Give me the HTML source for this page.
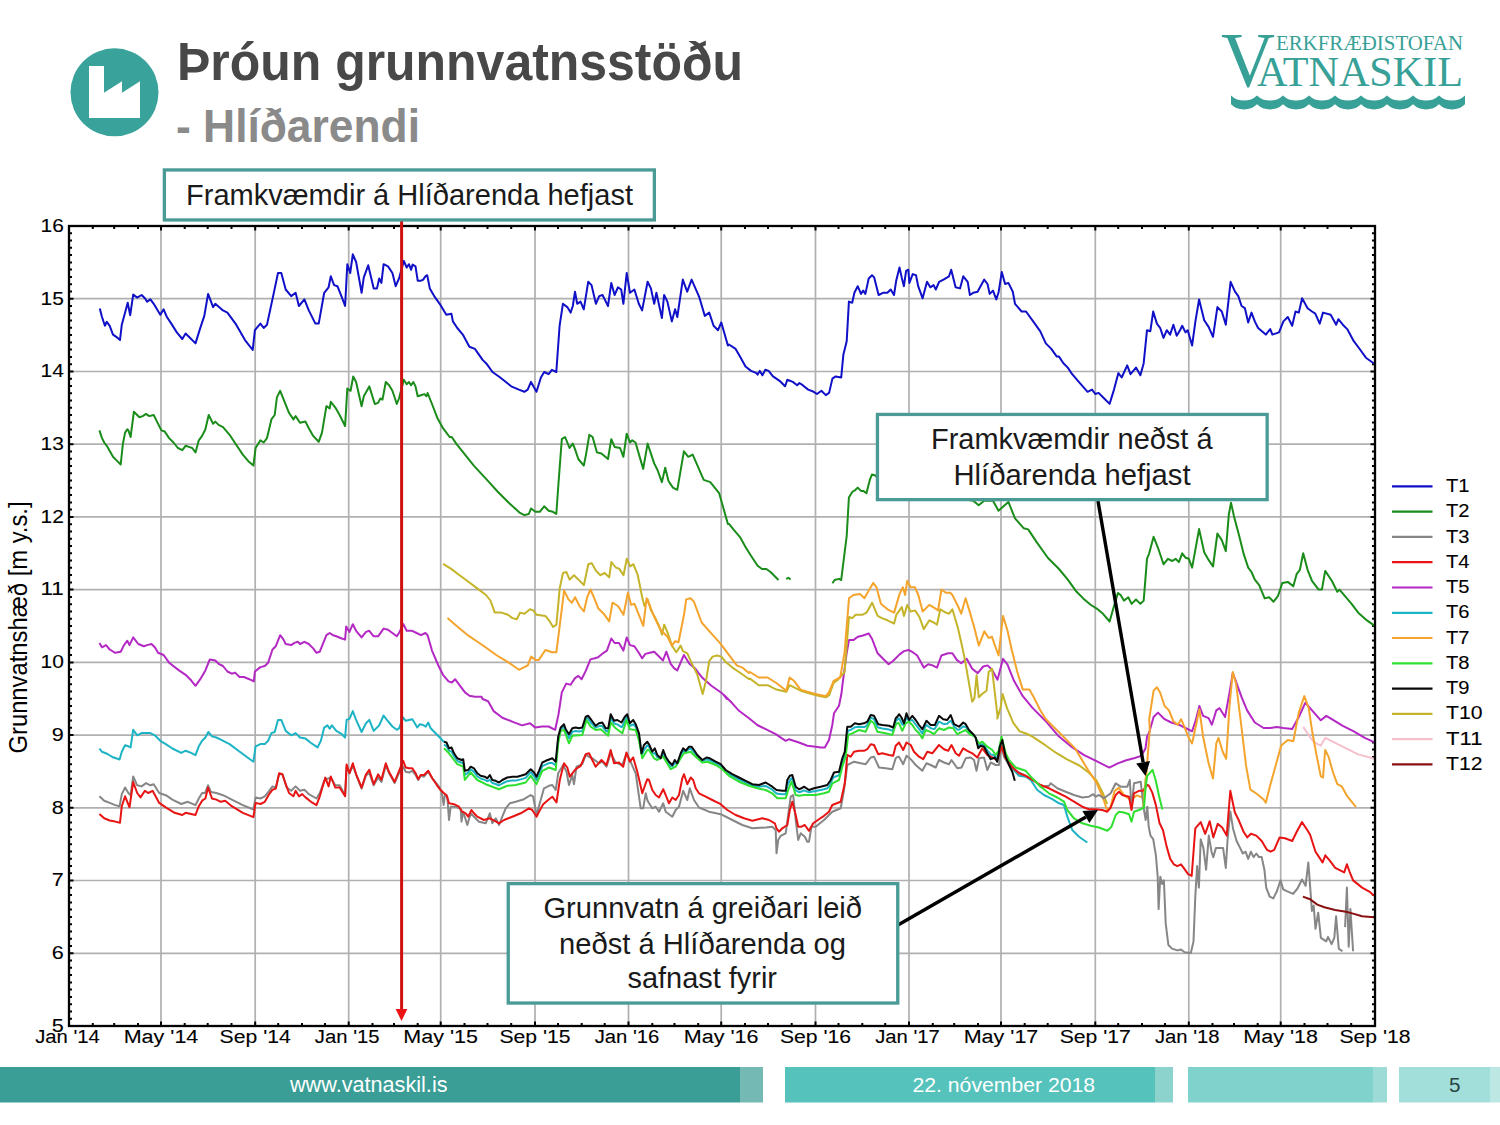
<!DOCTYPE html>
<html><head><meta charset="utf-8"><style>
html,body{margin:0;padding:0;background:#fff;}
body{width:1500px;height:1125px;position:relative;overflow:hidden;font-family:"Liberation Sans",sans-serif;}
svg{position:absolute;left:0;top:0;}
</style></head><body>
<svg width="1500" height="1125" viewBox="0 0 1500 1125">
<circle cx="114.5" cy="92.3" r="44" fill="#39a39b"/>
<polygon points="89,66 104,66 104,92.7 122,81.3 122,92.7 140,81.3 140,118 89,118" fill="#fff"/>
<text x="177.0" y="79.5" font-family="Liberation Sans" font-size="53.8" fill="#484848" textLength="566.0" lengthAdjust="spacingAndGlyphs" font-weight="bold">Þróun grunnvatnsstöðu</text>
<text x="176.0" y="141.8" font-family="Liberation Sans" font-size="46.5" fill="#8a8a8a" textLength="244.0" lengthAdjust="spacingAndGlyphs" font-weight="bold">- Hlíðarendi</text>
<text x="1221" y="86" font-family="Liberation Serif" font-size="78" fill="#37a097" textLength="54" lengthAdjust="spacingAndGlyphs">V</text>
<text x="1276" y="49.6" font-family="Liberation Serif" font-size="21.4" fill="#37a097" textLength="187" lengthAdjust="spacingAndGlyphs">ERKFRÆÐISTOFAN</text>
<text x="1257" y="85.6" font-family="Liberation Serif" font-size="41.7" fill="#37a097" textLength="206" lengthAdjust="spacingAndGlyphs">ATNASKIL</text>
<path d="M1231.0 95.4 A18.85 18.85 0 0 0 1257.0 95.4 L1257.0 104.2 A18.85 18.85 0 0 1 1231.0 104.2 Z M1257.0 95.4 A18.85 18.85 0 0 0 1283.0 95.4 L1283.0 104.2 A18.85 18.85 0 0 1 1257.0 104.2 Z M1283.0 95.4 A18.85 18.85 0 0 0 1309.0 95.4 L1309.0 104.2 A18.85 18.85 0 0 1 1283.0 104.2 Z M1309.0 95.4 A18.85 18.85 0 0 0 1335.0 95.4 L1335.0 104.2 A18.85 18.85 0 0 1 1309.0 104.2 Z M1335.0 95.4 A18.85 18.85 0 0 0 1361.0 95.4 L1361.0 104.2 A18.85 18.85 0 0 1 1335.0 104.2 Z M1361.0 95.4 A18.85 18.85 0 0 0 1387.0 95.4 L1387.0 104.2 A18.85 18.85 0 0 1 1361.0 104.2 Z M1387.0 95.4 A18.85 18.85 0 0 0 1413.0 95.4 L1413.0 104.2 A18.85 18.85 0 0 1 1387.0 104.2 Z M1413.0 95.4 A18.85 18.85 0 0 0 1439.0 95.4 L1439.0 104.2 A18.85 18.85 0 0 1 1413.0 104.2 Z M1439.0 95.4 A18.85 18.85 0 0 0 1465.0 95.4 L1465.0 104.2 A18.85 18.85 0 0 1 1439.0 104.2 Z " fill="#37a097"/>
<line x1="161.0" y1="226.0" x2="161.0" y2="1026.0" stroke="#b0b0b0" stroke-width="1.7"/>
<line x1="255.2" y1="226.0" x2="255.2" y2="1026.0" stroke="#b0b0b0" stroke-width="1.7"/>
<line x1="348.7" y1="226.0" x2="348.7" y2="1026.0" stroke="#b0b0b0" stroke-width="1.7"/>
<line x1="440.7" y1="226.0" x2="440.7" y2="1026.0" stroke="#b0b0b0" stroke-width="1.7"/>
<line x1="535.0" y1="226.0" x2="535.0" y2="1026.0" stroke="#b0b0b0" stroke-width="1.7"/>
<line x1="628.5" y1="226.0" x2="628.5" y2="1026.0" stroke="#b0b0b0" stroke-width="1.7"/>
<line x1="721.2" y1="226.0" x2="721.2" y2="1026.0" stroke="#b0b0b0" stroke-width="1.7"/>
<line x1="815.5" y1="226.0" x2="815.5" y2="1026.0" stroke="#b0b0b0" stroke-width="1.7"/>
<line x1="909.0" y1="226.0" x2="909.0" y2="1026.0" stroke="#b0b0b0" stroke-width="1.7"/>
<line x1="1001.0" y1="226.0" x2="1001.0" y2="1026.0" stroke="#b0b0b0" stroke-width="1.7"/>
<line x1="1095.3" y1="226.0" x2="1095.3" y2="1026.0" stroke="#b0b0b0" stroke-width="1.7"/>
<line x1="1188.8" y1="226.0" x2="1188.8" y2="1026.0" stroke="#b0b0b0" stroke-width="1.7"/>
<line x1="1280.7" y1="226.0" x2="1280.7" y2="1026.0" stroke="#b0b0b0" stroke-width="1.7"/>
<line x1="69.0" y1="953.3" x2="1375.0" y2="953.3" stroke="#b0b0b0" stroke-width="1.7"/>
<line x1="69.0" y1="880.5" x2="1375.0" y2="880.5" stroke="#b0b0b0" stroke-width="1.7"/>
<line x1="69.0" y1="807.8" x2="1375.0" y2="807.8" stroke="#b0b0b0" stroke-width="1.7"/>
<line x1="69.0" y1="735.1" x2="1375.0" y2="735.1" stroke="#b0b0b0" stroke-width="1.7"/>
<line x1="69.0" y1="662.4" x2="1375.0" y2="662.4" stroke="#b0b0b0" stroke-width="1.7"/>
<line x1="69.0" y1="589.6" x2="1375.0" y2="589.6" stroke="#b0b0b0" stroke-width="1.7"/>
<line x1="69.0" y1="516.9" x2="1375.0" y2="516.9" stroke="#b0b0b0" stroke-width="1.7"/>
<line x1="69.0" y1="444.2" x2="1375.0" y2="444.2" stroke="#b0b0b0" stroke-width="1.7"/>
<line x1="69.0" y1="371.5" x2="1375.0" y2="371.5" stroke="#b0b0b0" stroke-width="1.7"/>
<line x1="69.0" y1="298.7" x2="1375.0" y2="298.7" stroke="#b0b0b0" stroke-width="1.7"/>
<path d="M69.0 226.0v4.5M69.0 1026.0v-4.5M92.8 226.0v3M92.8 1026.0v-3M114.2 226.0v3M114.2 1026.0v-3M138.0 226.0v3M138.0 1026.0v-3M161.0 226.0v4.5M161.0 1026.0v-4.5M184.7 226.0v3M184.7 1026.0v-3M207.7 226.0v3M207.7 1026.0v-3M231.5 226.0v3M231.5 1026.0v-3M255.2 226.0v4.5M255.2 1026.0v-4.5M278.2 226.0v3M278.2 1026.0v-3M302.0 226.0v3M302.0 1026.0v-3M325.0 226.0v3M325.0 1026.0v-3M348.7 226.0v4.5M348.7 1026.0v-4.5M372.5 226.0v3M372.5 1026.0v-3M394.0 226.0v3M394.0 1026.0v-3M417.7 226.0v3M417.7 1026.0v-3M440.7 226.0v4.5M440.7 1026.0v-4.5M464.5 226.0v3M464.5 1026.0v-3M487.5 226.0v3M487.5 1026.0v-3M511.2 226.0v3M511.2 1026.0v-3M535.0 226.0v4.5M535.0 1026.0v-4.5M558.0 226.0v3M558.0 1026.0v-3M581.7 226.0v3M581.7 1026.0v-3M604.7 226.0v3M604.7 1026.0v-3M628.5 226.0v4.5M628.5 1026.0v-4.5M652.3 226.0v3M652.3 1026.0v-3M674.5 226.0v3M674.5 1026.0v-3M698.2 226.0v3M698.2 1026.0v-3M721.2 226.0v4.5M721.2 1026.0v-4.5M745.0 226.0v3M745.0 1026.0v-3M768.0 226.0v3M768.0 1026.0v-3M791.7 226.0v3M791.7 1026.0v-3M815.5 226.0v4.5M815.5 1026.0v-4.5M838.5 226.0v3M838.5 1026.0v-3M862.3 226.0v3M862.3 1026.0v-3M885.2 226.0v3M885.2 1026.0v-3M909.0 226.0v4.5M909.0 1026.0v-4.5M932.8 226.0v3M932.8 1026.0v-3M954.2 226.0v3M954.2 1026.0v-3M978.0 226.0v3M978.0 1026.0v-3M1001.0 226.0v4.5M1001.0 1026.0v-4.5M1024.7 226.0v3M1024.7 1026.0v-3M1047.7 226.0v3M1047.7 1026.0v-3M1071.5 226.0v3M1071.5 1026.0v-3M1095.3 226.0v4.5M1095.3 1026.0v-4.5M1118.2 226.0v3M1118.2 1026.0v-3M1142.0 226.0v3M1142.0 1026.0v-3M1165.0 226.0v3M1165.0 1026.0v-3M1188.8 226.0v4.5M1188.8 1026.0v-4.5M1212.5 226.0v3M1212.5 1026.0v-3M1234.0 226.0v3M1234.0 1026.0v-3M1257.7 226.0v3M1257.7 1026.0v-3M1280.7 226.0v4.5M1280.7 1026.0v-4.5M1304.5 226.0v3M1304.5 1026.0v-3M1327.5 226.0v3M1327.5 1026.0v-3M1351.2 226.0v3M1351.2 1026.0v-3M1375.0 226.0v4.5M1375.0 1026.0v-4.5M69.0 226.0h4.5M1375.0 226.0h-4.5M69.0 233.3h3M1375.0 233.3h-3M69.0 240.5h3M1375.0 240.5h-3M69.0 247.8h3M1375.0 247.8h-3M69.0 255.1h3M1375.0 255.1h-3M69.0 262.4h3M1375.0 262.4h-3M69.0 269.6h3M1375.0 269.6h-3M69.0 276.9h3M1375.0 276.9h-3M69.0 284.2h3M1375.0 284.2h-3M69.0 291.5h3M1375.0 291.5h-3M69.0 298.7h4.5M1375.0 298.7h-4.5M69.0 306.0h3M1375.0 306.0h-3M69.0 313.3h3M1375.0 313.3h-3M69.0 320.5h3M1375.0 320.5h-3M69.0 327.8h3M1375.0 327.8h-3M69.0 335.1h3M1375.0 335.1h-3M69.0 342.4h3M1375.0 342.4h-3M69.0 349.6h3M1375.0 349.6h-3M69.0 356.9h3M1375.0 356.9h-3M69.0 364.2h3M1375.0 364.2h-3M69.0 371.5h4.5M1375.0 371.5h-4.5M69.0 378.7h3M1375.0 378.7h-3M69.0 386.0h3M1375.0 386.0h-3M69.0 393.3h3M1375.0 393.3h-3M69.0 400.5h3M1375.0 400.5h-3M69.0 407.8h3M1375.0 407.8h-3M69.0 415.1h3M1375.0 415.1h-3M69.0 422.4h3M1375.0 422.4h-3M69.0 429.6h3M1375.0 429.6h-3M69.0 436.9h3M1375.0 436.9h-3M69.0 444.2h4.5M1375.0 444.2h-4.5M69.0 451.5h3M1375.0 451.5h-3M69.0 458.7h3M1375.0 458.7h-3M69.0 466.0h3M1375.0 466.0h-3M69.0 473.3h3M1375.0 473.3h-3M69.0 480.5h3M1375.0 480.5h-3M69.0 487.8h3M1375.0 487.8h-3M69.0 495.1h3M1375.0 495.1h-3M69.0 502.4h3M1375.0 502.4h-3M69.0 509.6h3M1375.0 509.6h-3M69.0 516.9h4.5M1375.0 516.9h-4.5M69.0 524.2h3M1375.0 524.2h-3M69.0 531.5h3M1375.0 531.5h-3M69.0 538.7h3M1375.0 538.7h-3M69.0 546.0h3M1375.0 546.0h-3M69.0 553.3h3M1375.0 553.3h-3M69.0 560.5h3M1375.0 560.5h-3M69.0 567.8h3M1375.0 567.8h-3M69.0 575.1h3M1375.0 575.1h-3M69.0 582.4h3M1375.0 582.4h-3M69.0 589.6h4.5M1375.0 589.6h-4.5M69.0 596.9h3M1375.0 596.9h-3M69.0 604.2h3M1375.0 604.2h-3M69.0 611.5h3M1375.0 611.5h-3M69.0 618.7h3M1375.0 618.7h-3M69.0 626.0h3M1375.0 626.0h-3M69.0 633.3h3M1375.0 633.3h-3M69.0 640.5h3M1375.0 640.5h-3M69.0 647.8h3M1375.0 647.8h-3M69.0 655.1h3M1375.0 655.1h-3M69.0 662.4h4.5M1375.0 662.4h-4.5M69.0 669.6h3M1375.0 669.6h-3M69.0 676.9h3M1375.0 676.9h-3M69.0 684.2h3M1375.0 684.2h-3M69.0 691.5h3M1375.0 691.5h-3M69.0 698.7h3M1375.0 698.7h-3M69.0 706.0h3M1375.0 706.0h-3M69.0 713.3h3M1375.0 713.3h-3M69.0 720.5h3M1375.0 720.5h-3M69.0 727.8h3M1375.0 727.8h-3M69.0 735.1h4.5M1375.0 735.1h-4.5M69.0 742.4h3M1375.0 742.4h-3M69.0 749.6h3M1375.0 749.6h-3M69.0 756.9h3M1375.0 756.9h-3M69.0 764.2h3M1375.0 764.2h-3M69.0 771.5h3M1375.0 771.5h-3M69.0 778.7h3M1375.0 778.7h-3M69.0 786.0h3M1375.0 786.0h-3M69.0 793.3h3M1375.0 793.3h-3M69.0 800.5h3M1375.0 800.5h-3M69.0 807.8h4.5M1375.0 807.8h-4.5M69.0 815.1h3M1375.0 815.1h-3M69.0 822.4h3M1375.0 822.4h-3M69.0 829.6h3M1375.0 829.6h-3M69.0 836.9h3M1375.0 836.9h-3M69.0 844.2h3M1375.0 844.2h-3M69.0 851.5h3M1375.0 851.5h-3M69.0 858.7h3M1375.0 858.7h-3M69.0 866.0h3M1375.0 866.0h-3M69.0 873.3h3M1375.0 873.3h-3M69.0 880.5h4.5M1375.0 880.5h-4.5M69.0 887.8h3M1375.0 887.8h-3M69.0 895.1h3M1375.0 895.1h-3M69.0 902.4h3M1375.0 902.4h-3M69.0 909.6h3M1375.0 909.6h-3M69.0 916.9h3M1375.0 916.9h-3M69.0 924.2h3M1375.0 924.2h-3M69.0 931.5h3M1375.0 931.5h-3M69.0 938.7h3M1375.0 938.7h-3M69.0 946.0h3M1375.0 946.0h-3M69.0 953.3h4.5M1375.0 953.3h-4.5M69.0 960.5h3M1375.0 960.5h-3M69.0 967.8h3M1375.0 967.8h-3M69.0 975.1h3M1375.0 975.1h-3M69.0 982.4h3M1375.0 982.4h-3M69.0 989.6h3M1375.0 989.6h-3M69.0 996.9h3M1375.0 996.9h-3M69.0 1004.2h3M1375.0 1004.2h-3M69.0 1011.5h3M1375.0 1011.5h-3M69.0 1018.7h3M1375.0 1018.7h-3M69.0 1026.0h4.5M1375.0 1026.0h-4.5" stroke="#000" stroke-width="2" fill="none"/>
<polyline points="1303.2,726.9 1309.8,736.8 1314.2,742.3 1320.8,745.6 1325.2,737.9 1336.2,743.4 1347.2,748.9 1358.2,754.4 1374.7,758.8" fill="none" stroke="#f4c0cc" stroke-width="2.0" stroke-linejoin="round"/>
<polyline points="99.4,430.4 102.0,438.1 104.2,442.5 107.5,446.9 113.0,456.8 116.3,460.1 120.7,464.5 122.9,443.6 125.1,432.6 127.3,429.3 128.4,430.4 130.6,437.0 133.9,411.7 139.4,417.2 142.7,416.1 146.0,413.9 149.3,416.1 153.7,415.0 157.0,421.6 161.4,430.4 164.7,431.5 169.1,438.1 173.5,442.5 177.9,448.0 182.3,450.2 185.6,445.8 188.9,446.9 192.2,448.0 195.5,452.4 198.8,440.3 202.1,435.9 205.4,429.3 208.7,415.0 213.1,423.8 215.3,421.6 218.6,424.9 223.0,427.1 229.6,434.8 236.2,444.7 242.8,454.6 248.3,461.2 253.4,465.6 255.6,448.0 260.4,440.3 263.7,442.5 267.0,438.1 271.4,419.4 274.7,415.0 276.9,397.4 280.2,390.8 284.6,401.8 289.0,412.8 293.4,419.4 295.6,416.1 300.0,422.7 305.5,421.6 308.8,428.2 313.2,435.9 318.7,441.8 322.0,432.6 326.4,406.2 329.7,408.4 330.8,401.8 335.2,407.3 339.6,415.0 345.1,426.0 347.3,388.6 350.6,390.8 353.2,376.5 356.1,382.0 361.6,406.2 363.8,396.3 369.3,386.4 374.8,404.0 378.1,402.9 380.3,398.5 382.5,399.6 385.8,382.0 389.1,385.3 392.4,390.8 396.8,404.0 399.0,398.5 403.8,379.8 406.7,384.2 408.9,382.0 411.1,385.3 413.3,382.0 415.5,386.4 417.7,396.3 421.0,395.2 424.3,394.1 426.5,396.3 427.6,393.0 432.0,404.0 437.5,418.3 443.0,428.2 449.6,437.0 451.8,437.0 456.2,443.6 465.0,454.6 473.8,465.6 487.0,479.9 498.0,492.0 509.0,503.0 520.0,512.9 524.4,515.1 528.8,514.0 531.0,508.5 535.4,511.8 539.8,511.8 544.2,506.3 548.6,510.7 553.0,511.8 556.3,514.0 558.5,483.2 561.8,439.2 565.1,437.0 569.5,448.0 572.8,443.6 575.0,449.1 578.3,459.0 583.8,465.6 586.0,454.6 589.3,434.8 592.6,437.0 597.0,452.4 601.4,453.5 608.0,459.0 611.3,439.2 614.6,446.9 620.1,448.0 623.4,456.8 626.7,433.7 630.0,442.5 632.2,440.3 635.5,442.5 643.2,468.9 647.6,443.6 654.2,463.4 657.5,470.0 661.9,482.1 665.2,467.8 668.5,481.0 672.9,487.6 677.3,489.8 683.9,451.3 688.3,456.8 692.7,454.6 703.7,479.9 710.3,482.1 719.1,493.1 727.9,523.9 729.0,523.9 733.4,529.4 740.0,537.1 745.5,547.0 751.0,555.8 757.6,565.7 762.0,569.0 766.4,569.0 770.8,572.3 778.5,580.0" fill="none" stroke="#1a8c1a" stroke-width="2.0" stroke-linejoin="round"/>
<polyline points="786.2,578.9 788.4,577.8 790.6,579.6" fill="none" stroke="#1a8c1a" stroke-width="2.0" stroke-linejoin="round"/>
<polyline points="832.4,583.3 834.6,580.0 839.0,578.9 841.2,580.0 843.4,562.4 846.7,536.0 848.9,497.5 852.2,492.0 855.5,489.8 857.7,487.6 861.0,490.9 863.2,490.9 866.5,493.1 869.8,479.9 872.0,474.4 875.3,475.5 883.0,483.2 905.0,483.2 927.0,492.0 949.0,496.4 973.2,500.8 978.7,505.2 984.2,500.8 993.0,500.8 998.5,510.7 1008.4,501.9 1015.0,518.4 1023.8,528.3 1028.2,529.4 1037.0,542.6 1048.0,558.0 1059.0,569.0 1067.8,579.7 1076.6,591.8 1083.2,598.4 1090.9,605.0 1096.4,608.3 1103.0,613.8 1109.6,621.5 1114.0,606.1 1118.0,592.9 1120.6,595.1 1123.9,600.6 1128.3,597.3 1131.6,603.9 1136.0,599.5 1140.4,603.9 1143.7,600.6 1147.0,558.8 1149.2,553.3 1153.6,536.8 1158.0,547.8 1163.5,564.3 1167.9,558.8 1172.3,561.0 1175.6,558.8 1178.9,562.1 1182.2,553.3 1185.5,557.7 1188.8,558.8 1192.1,567.6 1199.1,529.1 1204.2,552.2 1208.6,559.9 1213.0,566.5 1217.4,533.5 1221.8,540.1 1225.8,551.1 1228.8,514.8 1231.0,502.7 1233.9,515.9 1239.4,536.8 1243.8,554.4 1248.2,567.6 1251.5,572.0 1254.8,579.7 1259.2,585.2 1264.7,598.4 1269.1,597.3 1273.5,601.7 1277.9,596.2 1282.3,583.0 1287.8,581.9 1293.3,586.3 1296.6,574.2 1299.9,569.8 1303.2,553.3 1307.6,569.8 1312.0,580.8 1318.6,589.6 1321.9,589.6 1325.2,570.9 1331.8,580.8 1337.3,591.8 1339.5,589.6 1345.0,596.2 1351.6,603.9 1358.2,612.7 1367.0,620.4 1374.7,625.9" fill="none" stroke="#1a8c1a" stroke-width="2.0" stroke-linejoin="round"/>
<polyline points="99.8,308.6 102.0,317.0 104.9,325.8 106.8,321.8 109.7,325.8 113.0,334.6 116.3,336.8 120.0,340.0 121.8,324.7 125.1,312.6 127.7,302.7 130.2,315.2 133.2,294.6 137.2,297.6 141.6,295.0 144.9,298.3 147.1,301.6 150.4,299.4 153.7,303.8 160.3,314.8 163.6,309.3 166.9,317.0 171.3,323.6 176.8,332.4 182.3,339.0 185.6,333.5 188.9,336.8 195.5,343.4 199.9,329.1 204.3,315.9 208.1,293.9 213.1,307.1 215.3,303.8 223.0,310.4 227.4,312.6 236.2,324.7 245.0,340.1 252.7,350.0 254.9,330.2 260.4,323.6 263.7,328.0 267.0,324.7 273.6,293.9 278.0,273.0 281.3,273.0 285.7,289.5 291.2,296.1 295.6,292.8 298.9,306.0 304.4,299.4 308.8,310.4 315.4,323.6 318.7,323.6 324.2,292.8 328.6,287.3 330.8,276.3 334.1,285.1 337.4,286.2 341.8,297.2 345.1,306.0 347.3,264.2 350.2,273.0 352.8,254.3 356.1,262.0 361.6,292.8 363.8,277.4 368.2,265.3 373.7,288.4 377.0,288.4 379.2,278.5 381.4,282.9 383.6,264.2 388.0,266.4 392.4,273.0 395.7,286.2 399.0,278.5 403.8,260.9 406.7,267.5 408.9,264.2 411.1,269.7 412.6,264.6 415.5,266.4 417.7,280.7 421.0,280.7 423.2,279.6 425.4,276.3 427.2,275.2 429.8,288.4 434.2,296.1 439.7,303.8 446.3,314.8 451.4,313.7 452.9,321.4 457.3,328.0 462.8,334.6 469.4,346.7 474.9,348.9 482.6,359.9 487.0,364.3 492.5,372.0 500.2,377.5 511.2,386.3 518.9,389.6 524.4,391.8 527.7,389.6 531.0,381.9 536.5,391.8 540.9,377.5 544.2,372.0 548.6,374.2 551.9,369.8 556.3,372.0 559.6,325.8 562.9,303.8 567.3,307.1 570.6,312.6 572.8,306.0 575.0,291.7 577.2,303.8 580.5,301.6 583.8,309.3 588.2,281.8 591.5,285.1 595.9,303.8 599.2,296.1 602.5,295.0 604.7,299.4 608.0,306.0 611.3,282.9 614.6,295.0 617.9,287.3 621.2,289.5 623.4,303.8 626.7,273.0 630.0,292.8 634.4,289.5 638.8,303.8 642.1,310.4 647.6,281.8 650.9,288.4 654.2,303.8 656.4,292.8 661.9,318.1 664.1,295.0 667.4,301.6 671.8,321.4 675.1,309.3 677.3,317.0 682.8,279.6 687.2,291.7 691.6,279.6 699.3,297.2 704.8,315.9 709.2,312.6 713.6,325.8 718.0,330.2 721.3,322.5 727.9,345.6 729.0,344.5 735.6,348.9 740.0,356.6 745.5,366.5 751.0,370.9 756.5,373.1 757.6,374.6 759.8,370.9 762.4,375.3 765.3,369.8 768.6,370.9 773.0,376.4 779.6,380.8 785.1,386.3 787.3,379.7 792.8,381.9 797.2,385.2 799.4,383.0 802.7,385.2 808.2,389.6 813.7,391.8 817.0,394.0 821.4,390.7 825.8,395.1 829.1,392.9 832.4,378.6 835.7,376.4 841.2,377.5 843.4,354.4 846.7,341.2 848.9,301.6 852.2,302.7 854.4,292.8 857.7,286.2 861.0,293.9 863.2,290.6 865.4,293.9 868.7,278.5 872.0,275.2 874.2,277.4 878.6,295.0 883.0,292.8 887.4,292.8 890.7,289.5 894.0,295.0 896.2,280.7 899.5,267.5 901.7,277.4 903.9,286.2 906.1,270.8 908.3,269.7 909.4,282.9 912.7,274.1 916.0,275.2 918.2,286.2 922.6,298.3 927.0,281.8 930.3,287.3 933.6,285.1 935.8,289.5 939.1,281.8 943.5,279.6 949.0,276.3 951.2,269.7 955.6,287.3 960.0,288.4 963.3,276.3 967.7,281.8 969.9,295.0 973.2,292.8 977.6,291.7 984.2,279.6 987.5,284.0 989.7,293.9 993.0,290.6 996.3,299.4 998.5,292.8 1001.8,271.9 1005.1,284.0 1008.4,282.9 1012.8,291.7 1015.0,303.8 1021.6,311.5 1026.0,311.5 1034.8,323.6 1040.3,331.3 1045.8,343.4 1051.3,348.9 1056.8,356.6 1059.0,356.6 1063.4,363.2 1067.8,367.6 1072.2,374.2 1078.8,381.9 1087.6,391.8 1092.0,389.6 1095.3,394.0 1098.6,392.9 1105.2,399.5 1109.6,403.9 1114.0,389.6 1118.4,373.1 1121.7,377.5 1127.2,365.4 1130.5,374.2 1136.0,367.6 1140.4,375.3 1143.7,363.2 1147.0,330.2 1150.3,331.3 1153.2,311.5 1156.9,323.6 1160.2,328.0 1163.5,337.9 1166.8,330.2 1170.1,334.6 1173.4,324.7 1176.7,335.7 1180.0,330.2 1182.2,325.8 1185.5,332.4 1187.7,330.2 1192.1,345.6 1195.4,321.4 1199.1,299.4 1204.2,320.3 1208.6,326.9 1213.0,336.8 1217.4,307.1 1221.8,311.5 1225.8,324.7 1230.6,281.8 1235.0,291.7 1238.3,296.1 1241.6,306.0 1244.9,308.2 1248.2,322.5 1251.5,312.6 1254.8,321.4 1258.1,328.0 1265.8,334.6 1270.2,329.1 1272.4,334.6 1279.0,332.4 1283.4,321.4 1287.8,317.0 1292.2,325.8 1295.5,311.5 1298.8,312.6 1302.1,298.3 1307.6,308.2 1312.0,311.5 1315.3,313.7 1319.7,323.6 1323.0,312.6 1330.7,314.8 1336.2,324.7 1338.4,319.2 1342.8,324.7 1347.2,329.1 1353.8,341.2 1360.4,350.0 1365.9,357.7 1373.6,363.2" fill="none" stroke="#1010c8" stroke-width="2.0" stroke-linejoin="round"/>
<polyline points="99.4,642.9 102.0,647.3 106.0,645.1 109.7,649.5 115.2,652.8 120.7,651.7 124.0,645.1 127.3,640.7 129.5,645.1 133.2,637.4 138.3,644.0 143.8,646.2 147.1,645.1 151.5,644.0 154.8,647.3 158.1,652.8 163.6,655.0 169.1,662.7 179.0,670.4 185.6,674.8 191.1,680.3 195.5,685.8 201.0,678.1 205.4,670.4 209.8,659.4 215.3,660.5 218.6,663.8 223.0,666.0 227.4,671.5 231.8,673.7 235.1,672.6 239.5,677.0 243.9,677.0 249.4,679.2 253.8,681.4 254.9,671.5 260.4,667.1 264.8,666.0 268.1,662.7 272.5,649.5 275.8,646.2 280.2,635.2 283.5,639.6 285.7,644.0 291.2,645.1 294.5,642.9 297.8,641.8 300.0,644.0 304.4,641.8 308.8,644.0 313.2,648.4 316.5,652.8 319.8,651.7 326.4,635.2 329.7,633.0 333.0,635.2 336.3,636.3 341.8,638.5 345.1,639.6 346.2,626.4 349.5,631.9 352.8,624.2 356.1,630.8 361.6,637.4 366.0,631.9 369.3,630.8 373.7,636.3 378.1,636.3 383.6,628.6 388.0,629.7 392.4,633.0 396.8,636.3 399.0,633.0 403.4,624.2 406.7,630.8 412.2,630.8 416.6,633.0 421.0,635.2 425.4,633.0 427.6,635.2 432.0,650.6 438.6,666.0 443.0,674.8 448.5,681.4 451.8,682.5 455.1,679.2 458.4,683.6 465.0,692.4 469.4,695.7 474.9,696.8 481.5,696.8 482.6,699.0 488.1,701.2 493.6,711.1 502.4,717.7 513.4,722.1 522.2,725.4 529.9,723.2 535.4,727.6 542.0,726.5 548.6,726.5 555.2,729.8 558.5,714.4 561.8,692.4 566.2,683.6 570.6,684.7 575.0,678.1 578.3,675.9 581.6,679.2 586.0,670.4 590.4,659.4 594.8,658.3 598.1,657.2 603.6,652.8 606.9,650.6 611.3,638.5 614.6,642.9 619.0,642.9 623.4,650.6 626.7,637.4 630.0,645.1 634.4,646.2 638.8,652.8 642.1,658.3 645.4,653.9 649.8,652.8 654.2,651.7 657.5,655.0 663.0,660.5 666.3,651.7 670.7,663.8 674.0,668.2 677.3,670.4 680.6,662.7 683.9,655.0 689.4,663.8 694.9,668.2 698.2,672.6 702.6,678.1 711.4,685.8 722.4,693.5 726.8,699.0 724.0,695.0 732.3,703.3 739.0,710.8 749.0,718.3 757.3,725.0 765.7,729.2 775.7,734.2 785.7,740.8 789.0,739.2 799.0,742.5 807.3,745.8 815.7,746.7 820.7,747.5 824.8,747.5 829.0,740.0 832.3,725.0 834.0,713.3 839.0,705.8 841.5,693.3 842.4,685.2 846.8,652.2 849.0,640.1 853.4,640.1 857.8,636.8 862.2,635.7 868.8,633.5 872.1,639.0 877.6,653.3 883.1,658.8 888.6,664.3 893.0,661.0 899.6,654.4 904.0,651.1 908.4,650.0 912.8,652.2 917.2,655.5 923.8,667.6 928.2,664.3 932.6,665.4 937.0,667.6 941.4,655.5 948.0,653.3 952.4,653.3 956.8,659.9 961.2,663.2 966.7,658.8 972.2,668.7 977.7,673.1 983.2,666.5 987.6,665.4 992.0,669.8 997.5,679.7 1003.0,658.8 1007.4,664.3 1014.0,680.8 1022.8,696.2 1032.5,707.9 1045.3,720.7 1058.1,735.7 1070.9,746.3 1083.7,754.8 1096.5,761.2 1109.3,767.6 1117.8,763.4 1126.3,760.2 1134.8,758.0 1141.2,755.9 1145.5,748.4 1147.0,736.8 1149.2,732.4 1153.6,717.0 1158.0,712.6 1164.6,719.2 1171.2,722.5 1178.9,724.7 1185.5,728.0 1192.1,731.3 1195.4,721.4 1199.4,706.0 1203.1,715.9 1208.6,718.1 1211.9,724.7 1216.3,710.4 1219.6,708.2 1225.1,717.0 1229.5,692.8 1232.8,673.0 1236.1,681.8 1241.6,697.2 1247.1,710.4 1254.8,722.5 1263.6,728.0 1270.2,728.0 1276.8,726.9 1283.4,728.0 1292.2,729.1 1298.8,717.0 1305.4,702.7 1312.0,710.4 1320.8,720.3 1326.3,715.9 1331.8,719.2 1342.8,725.8 1353.8,731.3 1364.8,737.9 1374.7,742.3" fill="none" stroke="#b428c4" stroke-width="2.0" stroke-linejoin="round"/>
<polyline points="443.1,563.8 450.8,568.6 459.6,575.2 468.4,581.8 477.2,588.4 486.0,595.0 490.4,600.5 494.8,612.6 501.4,612.6 508.0,614.8 512.4,618.1 516.8,619.2 520.1,612.6 524.5,613.7 530.0,609.3 533.3,610.4 536.6,614.8 545.4,615.9 549.8,621.4 553.1,626.9 556.4,624.7 559.7,588.4 563.0,573.0 566.3,571.9 569.6,579.6 574.0,575.2 578.4,579.6 583.9,585.1 588.3,564.2 591.6,563.1 596.0,570.8 600.4,575.2 604.8,573.0 609.2,577.4 611.4,562.0 615.8,567.5 619.1,568.6 623.5,575.2 626.8,558.7 630.1,566.4 633.4,564.2 637.8,575.2 642.2,597.2 644.4,606.0 647.7,599.4 651.0,610.4 655.4,618.1 659.8,628.0 662.0,634.6 664.2,624.7 667.5,632.4 671.9,645.6 676.3,652.2 680.7,645.6 682.9,651.1 687.3,653.3 691.7,663.2 697.2,674.2 702.7,694.0 706.0,680.8 709.3,661.0 712.6,656.6 717.0,655.5 721.4,656.6 725.8,662.1 732.4,667.6 739.0,672.0 748.9,679.0 750.0,678.6 758.8,685.2 767.6,685.2 776.4,689.6 786.3,691.8 789.6,685.2 800.6,690.7 811.6,694.0 820.4,696.2 825.9,697.3 829.2,695.1 833.6,683.0 838.0,679.7 844.6,672.0 846.8,643.4 849.0,617.0 852.3,618.1 855.6,614.8 862.2,614.8 866.6,612.6 872.1,602.7 877.6,615.9 882.0,618.1 887.5,620.3 894.1,623.6 896.3,614.8 901.8,607.1 904.0,615.9 907.3,604.9 910.6,611.5 915.0,610.4 919.4,617.0 923.8,629.1 929.3,620.3 933.7,622.5 937.0,624.7 940.3,609.3 945.8,612.6 949.1,613.7 952.4,609.3 957.9,628.0 961.2,642.3 964.5,657.7 967.8,676.4 972.2,701.7 974.4,698.4 976.6,675.3 978.8,697.3 982.1,694.0 986.5,690.7 988.7,672.0 992.0,668.7 994.2,687.4 997.5,716.0 997.3,718.6 1000.5,707.9 1002.6,694.1 1006.9,707.9 1013.3,722.9 1019.7,731.4 1026.1,733.5 1032.5,736.7 1045.3,745.2 1055.9,752.7 1066.6,759.1 1079.4,765.5 1087.9,771.9 1096.5,780.4 1102.9,793.2 1107.1,803.9" fill="none" stroke="#c4b42a" stroke-width="2.0" stroke-linejoin="round"/>
<polyline points="447.5,618.1 455.2,624.7 468.4,635.7 481.6,644.5 497.0,655.5 508.0,662.1 519.0,669.8 527.8,665.4 531.1,656.6 535.5,659.9 538.8,659.9 545.4,650.0 552.0,652.2 556.4,652.2 559.7,625.8 564.1,590.6 568.5,599.4 571.8,602.7 575.1,597.2 579.5,606.0 583.9,611.5 587.2,597.2 590.5,589.5 593.8,597.2 598.2,608.2 603.7,613.7 609.2,621.4 612.5,602.7 618.0,606.0 623.5,614.8 627.9,592.8 631.2,604.9 634.5,603.8 638.9,614.8 643.3,625.8 646.6,598.3 649.9,606.0 654.3,617.0 660.9,630.2 667.5,636.8 671.9,645.6 675.2,641.2 678.5,642.3 684.0,614.8 686.2,599.4 690.6,598.3 693.9,601.6 701.6,622.5 710.4,632.4 720.3,643.4 730.2,656.6 736.8,665.4 742.3,667.6 748.9,673.1 750.0,672.0 758.8,677.5 767.6,677.5 776.4,683.0 786.3,690.7 789.6,677.5 794.0,680.8 800.6,689.6 811.6,692.9 820.4,695.1 825.9,696.2 829.2,691.8 833.6,680.8 840.2,677.5 844.6,652.2 849.0,598.3 853.4,595.0 860.0,593.9 864.4,598.3 868.8,590.6 873.2,582.9 876.5,587.3 880.9,603.8 887.5,609.3 894.1,612.6 899.6,593.9 902.9,587.3 905.1,595.0 907.3,580.7 910.6,587.3 915.0,587.3 918.3,595.0 922.7,611.5 929.3,604.9 934.8,608.2 938.1,610.4 941.4,589.5 945.8,592.8 950.2,592.8 952.4,595.0 957.9,606.0 961.2,613.7 965.6,598.3 970.0,612.6 974.4,628.0 978.8,645.6 984.3,631.3 988.7,637.9 992.0,636.8 994.2,643.4 998.6,655.5 1003.0,615.9 1007.4,630.2 1011.8,650.0 1017.3,672.0 1022.8,689.6 1029.4,689.6 1033.8,697.3 1040.4,710.5 1045.9,719.3 1075.1,748.4 1087.9,769.8 1096.5,782.6 1102.9,797.5 1107.1,810.3 1110.3,808.1 1114.6,791.1 1118.8,787.9 1124.2,795.4 1130.6,799.6 1137.0,795.4 1142.3,797.5 1145.5,784.7 1149.8,729.3 1149.2,719.2 1153.6,690.6 1156.9,687.3 1160.2,692.8 1164.6,706.0 1169.0,710.4 1173.4,721.4 1177.8,724.7 1181.1,719.2 1184.4,726.9 1188.8,737.9 1192.1,743.4 1195.4,728.0 1199.4,709.3 1203.1,736.8 1208.6,763.2 1213.0,778.6 1216.3,743.4 1218.5,737.9 1222.9,752.2 1226.2,758.8 1229.5,706.0 1232.8,671.9 1236.1,684.0 1241.6,728.0 1246.0,765.4 1250.4,789.6 1257.0,794.0 1263.6,799.5 1265.8,802.8 1270.2,785.2 1275.7,765.4 1281.2,745.6 1287.8,740.1 1293.3,741.2 1298.8,712.6 1304.3,696.1 1308.7,708.2 1312.0,730.2 1316.4,754.4 1320.8,776.4 1323.0,777.5 1325.2,750.0 1328.5,756.6 1332.9,772.0 1337.3,784.1 1341.7,786.3 1347.2,796.2 1356.0,807.2" fill="none" stroke="#f4a42c" stroke-width="2.0" stroke-linejoin="round"/>
<polyline points="99.4,748.5 102.0,751.8 107.5,754.0 113.0,757.3 119.6,759.5 121.8,751.8 125.1,745.2 128.4,746.3 130.6,747.4 133.2,729.8 137.2,735.3 141.6,733.1 146.0,733.1 150.4,733.1 154.8,735.3 160.3,740.8 165.8,744.1 172.4,748.5 181.2,752.9 185.6,750.7 191.1,752.9 195.5,755.1 198.8,746.3 202.1,740.8 205.4,737.5 208.3,732.0 212.0,736.4 216.4,737.5 220.8,739.7 229.6,744.1 238.4,750.7 247.2,757.3 253.4,761.7 255.6,746.3 260.4,744.1 264.8,744.1 268.1,740.8 271.4,733.1 274.7,732.0 278.0,719.9 281.3,719.9 285.7,730.9 291.2,735.3 295.6,733.1 300.0,737.5 305.5,738.6 311.0,743.0 317.6,747.4 320.9,740.8 324.2,727.6 327.5,725.4 329.7,728.7 331.9,725.4 336.3,730.9 341.8,734.2 345.1,737.5 346.6,719.9 349.5,718.8 352.8,711.1 356.1,719.9 361.6,732.0 366.0,723.2 369.3,719.9 373.7,730.9 379.2,725.4 383.6,715.5 386.9,719.9 392.4,726.5 396.8,729.8 399.0,728.3 403.2,717.5 405.7,720.8 409.0,720.0 412.3,719.2 414.8,723.3 417.3,727.5 419.8,724.2 423.2,725.0 425.7,726.7 428.2,722.5 430.7,728.3 434.8,732.5 439.8,737.5 444.0,742.0" fill="none" stroke="#1cb4c4" stroke-width="2.0" stroke-linejoin="round"/>
<polyline points="1005.7,758.3 1012.3,768.3 1019.0,775.8 1025.7,776.7 1030.7,780.0 1037.3,790.0 1044.0,795.0 1052.3,799.2 1059.0,803.3 1064.0,805.0 1067.3,816.7 1072.3,830.0 1079.0,836.7 1087.3,842.5" fill="none" stroke="#1cb4c4" stroke-width="2.0" stroke-linejoin="round"/>
<polyline points="444.0,744.7 446.5,746.2 449.0,750.6 451.5,751.6 454.0,756.3 457.3,761.0 461.5,762.7 463.2,762.5 464.8,775.0 468.2,772.6 470.7,769.3 474.0,771.9 477.3,776.3 480.7,778.5 484.8,779.9 485.7,780.3 487.3,781.2 489.8,779.8 492.3,783.0 495.7,784.0 499.0,785.5 502.3,783.5 507.3,781.2 512.3,780.6 515.7,780.4 517.3,780.2 520.7,779.4 525.7,777.9 530.7,772.2 534.0,776.1 536.5,780.0 539.0,774.3 542.3,766.2 545.7,764.6 549.0,763.1 549.8,763.1 552.3,763.0 555.7,765.4 558.2,739.7 560.7,729.0 564.0,726.8 565.7,731.5 569.0,738.3 572.3,731.7 575.7,731.1 579.0,731.5 582.3,730.9 585.7,719.5 586.5,718.0 588.2,718.9 590.7,722.5 593.2,725.1 595.7,727.7 599.0,726.1 600.7,725.7 602.3,726.2 605.7,730.7 608.2,731.7 610.7,717.9 614.0,723.3 615.7,724.0 617.3,724.3 621.5,727.1 622.3,726.6 624.8,720.6 626.5,717.2 627.3,717.8 629.8,726.0 633.2,724.3 635.7,726.8 639.0,736.7 641.5,753.6 642.3,754.1 644.0,749.8 647.3,745.4 649.0,746.8 652.3,753.4 654.0,753.4 654.8,753.0 657.3,757.2 660.7,758.2 663.2,753.0 665.7,758.5 669.0,763.8 670.7,766.0 672.3,766.5 674.8,763.2 675.7,763.6 677.3,763.6 680.7,755.6 683.2,751.1 684.0,751.0 685.7,751.8 689.0,749.1 690.7,748.9 691.5,749.3 694.0,752.2 695.7,754.4 697.3,756.4 702.3,761.1 706.5,759.4 707.3,759.5 709.8,760.3 715.7,763.2 720.7,765.9 722.3,767.5 725.7,771.1 729.0,773.8 732.3,775.8 739.0,779.4 745.7,782.5 749.0,784.0 752.3,785.4 757.3,786.4 759.0,786.7 765.7,785.9 772.3,789.7 776.5,793.4 777.3,793.8 782.3,794.2 785.7,794.2 787.3,785.8 788.2,783.7 789.8,780.3 791.5,778.2 792.3,779.2 795.7,790.4 799.0,792.2 801.5,791.5 804.0,790.4 809.0,792.2 814.0,791.3 815.7,791.1 820.7,790.0 824.0,789.2 827.3,788.2 829.0,786.6 830.7,783.4 832.3,779.4 834.0,777.0 839.0,775.4 842.3,762.1 844.8,755.0 845.7,749.3 847.3,733.7 848.2,730.4 850.7,730.0 852.3,728.9 854.8,727.3 859.0,726.8 864.0,726.9 865.7,726.6 867.3,724.5 870.7,717.6 874.0,719.2 877.3,726.6 878.2,727.6 882.3,728.5 885.7,729.0 889.0,729.6 892.3,730.7 893.2,729.8 895.7,721.3 897.3,719.5 899.0,718.3 901.5,722.7 902.3,724.6 904.0,725.0 905.7,719.7 906.5,717.6 909.0,720.8 912.3,720.0 915.7,724.5 919.0,728.8 922.3,733.3 925.7,725.9 926.5,725.1 929.8,727.5 930.7,728.2 934.0,729.1 934.8,728.7 939.0,721.5 943.2,723.9 944.0,724.1 947.3,723.8 949.0,722.0 950.7,720.8 953.2,724.8 954.0,726.6 957.3,729.6 959.0,729.7 962.3,727.1 963.2,726.4 965.7,726.8 969.0,731.5 969.8,732.3 973.2,734.9 974.8,736.5 975.7,737.7 978.2,745.5 979.0,745.6 980.7,744.3 982.3,744.2 984.0,745.2 987.3,750.3 990.7,754.5 992.3,754.7 994.8,755.8 995.7,757.1 997.3,757.5 999.0,750.9 999.8,746.2 1001.5,739.7 1002.3,740.0" fill="none" stroke="#1cb4c4" stroke-width="2.0" stroke-linejoin="round"/>
<polyline points="99.4,796.3 104.2,800.7 109.7,802.9 115.2,805.1 119.6,806.2 121.8,794.1 125.1,787.5 128.4,793.0 130.6,795.2 133.2,776.5 137.2,785.3 141.6,786.4 146.0,783.1 150.4,785.3 153.7,784.2 159.2,793.0 165.8,795.2 172.4,799.6 181.2,804.0 187.8,801.8 195.5,805.1 198.8,798.5 202.1,793.0 205.0,793.0 208.0,785.3 210.9,791.9 216.4,793.0 223.0,795.2 231.8,799.6 242.8,805.1 253.4,809.5 255.6,797.4 260.4,798.5 264.8,796.3 269.2,790.8 272.5,786.4 275.8,787.5 279.1,774.3 282.4,774.3 286.8,787.5 291.2,790.8 295.6,786.4 300.0,790.8 304.4,789.7 308.8,794.1 316.5,798.5 319.8,793.0 324.2,780.9 327.5,778.7 330.8,777.6 335.2,785.3 339.6,785.3 345.1,795.2 346.6,766.6 349.5,773.2 352.8,765.5 356.1,774.3 361.6,788.6 366.0,775.4 369.3,773.2 373.7,785.3 378.1,777.6 381.4,782.0 385.8,765.5 389.1,773.2 394.6,783.1 399.0,773.2 403.2,766.7 405.7,771.7 409.0,772.5 412.3,770.8 415.7,775.0 418.2,780.0 420.7,775.8 424.0,776.7 428.2,771.7 432.3,778.3 439.0,786.7 441.5,791.7 443.7,805.0 444.8,795.0 447.3,796.7 449.0,820.0 450.7,806.7 455.7,806.7 460.7,809.2 461.5,821.7 463.2,811.7 467.3,825.0 470.7,813.3 474.0,816.7 479.0,821.7 485.7,823.3 489.8,813.3 492.3,823.3 495.7,818.3 499.0,825.0 502.3,816.7 505.7,808.3 509.8,803.3 515.7,801.7 524.0,799.2 530.7,795.0 533.2,796.7 536.5,815.0 540.7,800.0 544.0,788.3 549.0,785.8 552.3,785.0 555.7,790.0 558.2,773.3 563.2,765.0 566.5,771.7 569.0,785.0 572.3,775.0 574.0,784.2 576.5,766.7 582.3,764.2 585.7,755.0 592.3,758.3 599.0,763.3 602.3,761.7 606.5,766.7 610.7,753.3 615.7,762.5 622.3,765.0 626.5,753.3 629.8,760.0 635.7,773.3 640.7,808.3 643.2,808.3 645.7,793.3 647.3,800.0 649.0,803.3 652.3,808.3 655.7,806.7 659.0,811.7 663.2,803.3 665.7,811.7 672.3,816.7 675.7,810.0 679.0,806.7 683.2,790.8 687.3,800.0 689.8,788.3 694.0,800.0 699.0,807.5 709.0,811.7 720.7,814.2 732.3,820.0 742.3,825.0 752.3,828.3 765.7,827.5 772.3,826.7 775.7,830.0 776.5,853.3 778.2,840.0 780.7,835.8 785.7,833.3 790.7,796.7 793.2,795.0 795.7,820.0 798.2,840.0 800.7,833.3 804.8,836.7 807.3,841.7 809.0,841.7 811.5,826.7 815.7,826.7 824.0,820.0 832.3,811.7 840.7,808.3 844.0,790.0 847.3,765.0 850.7,763.3 854.0,761.7 860.7,763.3 865.7,764.2 870.7,757.5 874.0,756.7 879.0,767.5 885.7,768.3 892.3,769.2 895.7,758.3 897.3,757.0 899.0,756.7 903.2,764.2 906.5,755.8 910.7,759.2 915.7,765.0 922.3,770.8 926.5,763.3 930.7,765.0 935.7,767.5 939.0,760.0 944.0,762.5 949.0,764.2 951.5,760.0 957.3,768.3 961.5,767.5 965.7,758.3 970.7,757.5 974.0,760.0 976.5,770.8 979.0,758.3 984.0,757.5 987.3,770.0 990.7,762.5 995.7,765.0 999.0,765.0 1001.5,745.0 1004.0,756.7 1009.0,765.0 1015.7,770.8 1025.7,775.8 1034.0,780.0 1040.7,786.7 1049.0,785.8 1050.7,783.3 1057.3,788.3 1065.7,791.7 1074.0,795.0 1082.3,797.5 1089.0,796.7 1093.2,794.2 1095.7,796.7 1099.0,795.0 1104.0,798.3 1110.7,793.3 1115.7,783.3 1120.7,786.7 1127.3,786.7 1129.8,780.0 1131.5,808.3 1134.0,783.3 1140.7,781.7 1144.0,810.0 1145.7,820.0 1147.3,806.7 1148.7,826.6 1150.5,835.6 1153.2,839.2 1155.9,855.3 1157.7,876.8 1158.6,909.1 1160.3,876.8 1162.1,884.0 1163.9,880.4 1165.7,923.5 1168.4,945.0 1172.0,948.6 1177.4,950.4 1181.0,949.5 1184.6,952.2 1190.8,953.1 1193.5,941.4 1195.3,896.6 1197.1,866.1 1198.9,887.6 1200.7,839.2 1203.4,848.1 1206.1,869.7 1208.8,835.6 1211.5,851.7 1213.3,857.1 1215.9,848.1 1218.6,848.1 1223.1,848.1 1225.8,867.9 1227.6,839.2 1230.3,811.4 1233.0,828.4 1236.6,841.0 1240.2,848.1 1242.8,853.5 1245.5,851.7 1248.2,858.9 1250.9,851.7 1253.6,857.1 1256.3,853.5 1259.0,857.1 1261.7,857.1 1264.4,869.7 1266.2,887.6 1269.7,896.6 1273.3,898.4 1276.9,891.2 1280.5,880.4 1283.2,889.4 1286.8,891.2 1293.1,893.9 1297.5,888.5 1302.0,879.5 1305.6,885.8 1308.3,862.5 1310.1,885.8 1311.9,910.9 1313.7,905.5 1315.5,928.8 1318.2,912.7 1320.9,937.8 1326.2,941.4 1328.0,936.9 1331.6,944.1 1334.3,937.8 1336.1,916.3 1338.8,948.6 1342.4,951.3" fill="none" stroke="#868686" stroke-width="2.0" stroke-linejoin="round"/>
<polyline points="1345.1,927.1 1346.9,887.6 1348.7,946.8 1350.4,909.1 1353.1,951.3" fill="none" stroke="#868686" stroke-width="2.0" stroke-linejoin="round"/>
<polyline points="99.4,813.9 104.2,818.3 109.7,820.5 115.2,821.6 120.0,822.7 121.8,806.2 125.1,796.3 129.5,807.3 133.2,782.0 137.2,793.0 140.5,797.4 144.9,790.8 148.2,793.0 152.6,790.8 159.2,802.9 165.8,807.3 174.6,812.8 182.3,815.0 185.6,812.8 195.5,815.0 198.8,806.2 202.1,800.7 205.4,798.5 208.0,787.5 212.0,798.5 216.4,799.6 220.8,801.8 225.2,800.7 231.8,806.2 242.8,812.8 253.4,817.2 255.6,802.9 260.4,804.0 264.8,801.8 269.2,794.1 272.5,789.7 275.8,788.6 279.1,773.2 282.4,774.3 285.7,784.2 289.0,793.0 293.4,796.3 295.6,790.8 298.9,796.3 302.2,794.1 305.5,797.4 311.0,801.8 316.5,805.1 319.8,796.3 325.3,777.6 328.6,786.4 330.8,776.5 335.2,787.5 339.6,787.5 345.1,796.3 346.6,764.4 349.5,773.2 352.8,763.3 356.1,774.3 361.6,787.5 366.0,774.3 369.3,769.9 373.7,784.2 378.1,774.3 381.4,779.8 385.8,763.3 389.1,772.1 394.6,782.0 399.0,771.0 403.2,760.8 405.7,767.5 409.0,768.3 412.3,768.3 415.7,773.3 418.2,779.2 420.7,775.0 424.0,775.0 428.2,770.8 432.3,778.3 437.3,785.8 440.7,790.0 444.0,793.3 446.5,795.0 449.0,803.3 454.0,804.2 459.0,806.7 462.3,811.7 465.7,813.3 468.2,816.7 471.5,810.0 474.0,813.3 477.3,816.7 484.0,820.0 489.8,818.3 494.8,820.8 499.0,823.3 504.0,820.0 512.3,816.7 520.7,813.3 529.0,808.3 532.3,810.0 536.5,816.7 539.0,811.7 543.2,804.2 549.0,799.2 552.3,796.7 556.5,802.5 559.8,780.0 564.0,763.3 567.3,767.5 569.8,776.7 572.3,773.3 575.7,769.2 580.7,765.8 585.7,754.2 589.0,753.3 592.3,760.0 595.7,766.7 601.5,760.0 606.5,765.0 610.7,750.0 614.0,763.3 619.0,762.5 623.2,766.7 626.5,752.5 629.8,761.7 633.2,757.5 637.3,771.7 642.3,793.3 645.7,783.3 647.3,779.2 649.0,780.0 652.3,790.0 655.7,795.0 659.0,797.5 663.2,789.2 665.7,795.0 669.0,803.3 672.3,797.5 675.7,800.0 679.0,795.0 682.3,778.3 684.0,774.2 687.3,784.2 690.7,777.5 693.2,780.0 695.7,788.3 699.0,793.3 705.7,796.7 712.3,800.0 720.7,804.2 727.3,810.0 735.7,815.0 744.0,818.3 752.3,820.8 762.3,818.3 769.0,820.0 774.8,823.3 776.5,828.3 779.0,831.7 782.3,828.3 787.3,825.0 789.8,810.0 792.3,801.7 795.7,815.0 798.2,826.7 801.5,826.7 804.8,825.0 809.0,830.8 813.2,823.3 819.0,819.2 824.0,815.8 829.0,811.7 832.3,805.0 840.7,801.7 844.8,783.3 847.3,755.0 850.7,756.7 854.0,751.7 859.0,750.8 864.0,750.8 867.3,749.2 870.7,744.2 874.0,745.0 878.2,754.2 882.3,753.3 889.0,755.0 893.2,755.8 895.7,745.8 897.3,744.2 899.0,742.5 903.2,750.0 906.5,742.5 910.7,745.0 914.0,751.7 919.0,756.7 923.2,759.2 927.3,751.7 932.3,753.3 939.0,745.0 944.0,749.2 948.2,750.8 951.5,745.0 955.7,753.3 959.0,755.8 963.2,748.3 967.3,750.8 972.3,753.3 977.3,757.5 982.3,748.3 987.3,755.0 992.3,757.5 997.3,760.0 1001.5,746.7 1005.7,758.3 1012.3,766.7 1019.0,773.3 1025.7,775.8 1032.3,780.0 1040.7,785.0 1049.0,788.3 1057.3,792.5 1065.7,796.7 1074.0,801.7 1082.3,806.7 1089.0,809.2 1095.7,809.2 1102.3,810.0 1107.3,811.7 1110.7,807.5 1115.7,795.0 1119.0,791.7 1122.3,795.0 1129.0,796.7 1131.5,810.0 1134.0,793.3 1139.0,790.8 1143.2,790.8 1145.7,786.7 1147.3,785.0 1148.7,785.4 1152.3,792.6 1155.9,805.1 1159.5,823.0 1163.0,830.2 1166.6,846.4 1170.2,858.9 1173.8,864.3 1177.4,866.1 1181.0,864.3 1183.7,867.9 1188.1,874.1 1191.7,875.9 1195.3,828.4 1200.7,822.1 1205.2,833.8 1209.7,821.2 1213.3,837.4 1217.7,823.9 1222.2,827.5 1226.7,835.6 1230.3,790.8 1234.8,812.3 1238.4,819.5 1243.7,832.0 1247.3,837.4 1250.9,833.8 1256.3,835.6 1261.7,841.0 1267.1,849.9 1270.6,851.7 1274.2,849.9 1279.6,837.4 1285.0,838.3 1292.2,841.0 1296.6,832.0 1302.0,822.1 1307.4,830.2 1310.1,834.7 1315.5,851.7 1319.1,857.1 1322.6,862.5 1325.3,855.3 1329.8,860.7 1335.2,867.9 1344.2,872.4 1346.9,864.3 1349.5,871.5 1353.1,880.4 1362.1,887.6 1370.2,892.1 1373.8,895.7" fill="none" stroke="#e81414" stroke-width="2.0" stroke-linejoin="round"/>
<polyline points="1143.2,807.0 1144.6,792.0 1145.8,777.0" fill="none" stroke="#c4b42a" stroke-width="2.0" stroke-linejoin="round"/>
<polyline points="444.0,748.3 449.0,753.3 454.0,760.0 457.3,764.2 463.2,766.7 464.8,780.0 470.7,772.5 477.3,780.0 485.7,784.2 492.3,786.7 499.0,789.2 507.3,785.8 515.7,785.0 525.7,782.5 530.7,775.8 536.5,784.2 542.3,770.8 549.0,767.5 555.7,770.0 558.2,743.3 560.7,730.8 564.0,730.0 569.0,743.3 572.3,735.8 582.3,735.0 586.5,720.0 590.7,726.7 595.7,730.0 600.7,729.2 608.2,735.8 610.7,722.5 615.7,728.3 622.3,733.3 626.5,720.0 629.8,729.2 635.7,730.0 639.0,740.8 642.3,758.3 647.3,750.0 649.0,750.0 654.0,758.3 657.3,760.0 663.2,756.7 670.7,769.2 675.7,766.7 680.7,758.3 684.0,753.3 690.7,751.7 695.7,756.7 702.3,762.5 707.3,761.7 715.7,765.0 722.3,769.2 729.0,775.8 739.0,781.7 749.0,785.8 757.3,788.3 765.7,790.0 772.3,793.3 777.3,798.3 785.7,798.3 788.2,790.0 791.5,781.7 795.7,795.0 799.0,795.8 804.0,795.0 809.0,795.0 815.7,795.0 824.0,793.3 829.0,791.7 832.3,783.3 839.0,780.0 842.3,766.7 845.7,756.7 848.2,735.0 852.3,733.3 859.0,730.0 865.7,731.7 870.7,720.8 874.0,723.3 877.3,731.7 885.7,733.3 892.3,735.0 895.7,725.0 897.3,723.0 899.0,723.3 902.3,730.8 905.7,723.3 909.0,721.7 912.3,725.0 915.7,730.0 919.0,733.3 922.3,738.3 925.7,730.0 929.8,731.7 934.0,734.2 939.0,728.3 944.0,730.0 949.0,727.5 953.2,728.3 957.3,734.2 962.3,731.7 965.7,730.0 969.8,734.2 974.8,736.7 979.0,743.3 982.3,741.7 987.3,746.7 992.3,750.0 995.7,755.0 999.0,750.0 1001.5,736.7 1005.7,753.3 1009.0,760.0 1015.7,767.5 1025.7,770.8 1032.3,778.3 1040.7,786.7 1049.0,793.3 1057.3,797.5 1064.0,801.7 1067.3,810.0 1074.0,818.3 1082.3,823.3 1090.7,825.8 1099.0,827.5 1107.3,830.8 1111.5,826.7 1115.7,815.0 1119.0,811.7 1124.0,812.5 1129.0,814.2 1131.5,821.7 1134.0,811.7 1139.0,810.0 1144.0,807.5 1145.7,786.7 1147.3,775.8 1152.5,769.8 1155.8,780.8 1159.1,796.2 1162.4,809.4" fill="none" stroke="#30e030" stroke-width="2.0" stroke-linejoin="round"/>
<polyline points="444.0,741.7 446.5,742.5 449.0,748.3 451.5,747.5 454.0,753.3 457.3,758.3 461.5,760.0 463.2,759.2 464.8,770.8 468.2,770.0 470.7,766.7 474.0,768.3 477.3,773.3 480.7,775.8 484.8,776.7 487.3,778.3 489.8,775.0 492.3,780.0 495.7,780.8 499.0,782.5 502.3,780.0 507.3,777.5 512.3,776.7 517.3,776.7 520.7,775.8 525.7,774.2 530.7,769.2 534.0,772.5 536.5,776.7 539.0,770.8 542.3,762.5 545.7,760.8 549.8,759.2 552.3,758.3 555.7,761.7 558.2,736.7 560.7,727.5 564.0,724.2 565.7,729.2 569.0,734.2 572.3,728.3 575.7,727.5 579.0,728.3 582.3,727.5 585.7,716.7 588.2,715.8 590.7,719.2 593.2,722.5 595.7,725.8 599.0,723.3 602.3,722.5 605.7,728.3 608.2,728.3 610.7,714.2 614.0,720.8 617.3,720.0 621.5,722.5 624.8,716.7 627.3,714.2 629.8,723.3 633.2,720.0 635.7,724.2 639.0,733.3 641.5,753.3 644.0,745.0 647.3,741.7 649.0,744.2 652.3,751.7 654.8,748.3 657.3,755.0 660.7,758.3 663.2,750.0 665.7,756.7 669.0,761.7 672.3,765.0 674.8,760.0 677.3,763.3 680.7,753.3 683.2,748.3 685.7,750.8 689.0,746.7 691.5,746.7 694.0,750.0 697.3,755.0 702.3,760.0 706.5,757.5 709.8,758.3 715.7,761.7 720.7,764.2 725.7,770.0 732.3,774.2 739.0,777.5 745.7,780.8 752.3,784.2 759.0,785.0 765.7,782.5 772.3,786.7 776.5,790.0 782.3,790.8 785.7,790.8 787.3,780.0 789.8,775.8 792.3,775.0 795.7,786.7 799.0,789.2 801.5,788.3 804.0,786.7 809.0,790.0 814.0,788.3 820.7,786.7 827.3,785.0 830.7,780.0 834.0,772.5 839.0,771.7 842.3,758.3 844.8,751.7 847.3,726.7 850.7,726.7 854.8,723.3 859.0,724.2 864.0,723.3 867.3,721.7 870.7,715.0 874.0,715.8 878.2,724.2 882.3,725.0 889.0,725.8 893.2,727.5 895.7,718.3 897.3,716.7 899.0,714.2 901.5,717.5 904.0,723.3 906.5,713.3 909.0,720.0 912.3,715.8 915.7,720.0 919.0,725.0 922.3,729.2 926.5,720.8 930.7,725.0 934.8,725.0 939.0,715.8 943.2,719.2 947.3,720.0 950.7,715.0 954.0,724.2 959.0,726.7 963.2,722.5 965.7,724.2 969.0,730.0 973.2,734.2 975.7,737.5 978.2,748.3 980.7,745.8 984.0,746.7 987.3,753.3 990.7,759.2 994.8,757.5 997.3,761.7 999.8,746.7 1002.3,740.0 1005.7,756.7 1009.0,765.0 1012.3,771.7 1014.8,780.8" fill="none" stroke="#0a0a0a" stroke-width="2.0" stroke-linejoin="round"/>
<polyline points="1302.9,896.6 1310.1,899.3 1317.3,904.6 1324.4,907.3 1335.2,910.0 1346.0,911.8 1353.1,913.6 1362.1,916.3 1373.8,917.2" fill="none" stroke="#8a1010" stroke-width="2.0" stroke-linejoin="round"/>
<rect x="69.0" y="226.0" width="1306.0" height="800.0" fill="none" stroke="#000" stroke-width="2.3"/>
<text x="63.8" y="1031.8" font-family="Liberation Sans" font-size="18" fill="#000" text-anchor="end" textLength="12.0" lengthAdjust="spacingAndGlyphs" stroke="#000" stroke-width="0.1">5</text>
<text x="63.8" y="959.1" font-family="Liberation Sans" font-size="18" fill="#000" text-anchor="end" textLength="12.0" lengthAdjust="spacingAndGlyphs" stroke="#000" stroke-width="0.1">6</text>
<text x="63.8" y="886.3" font-family="Liberation Sans" font-size="18" fill="#000" text-anchor="end" textLength="12.0" lengthAdjust="spacingAndGlyphs" stroke="#000" stroke-width="0.1">7</text>
<text x="63.8" y="813.6" font-family="Liberation Sans" font-size="18" fill="#000" text-anchor="end" textLength="12.0" lengthAdjust="spacingAndGlyphs" stroke="#000" stroke-width="0.1">8</text>
<text x="63.8" y="740.9" font-family="Liberation Sans" font-size="18" fill="#000" text-anchor="end" textLength="12.0" lengthAdjust="spacingAndGlyphs" stroke="#000" stroke-width="0.1">9</text>
<text x="63.8" y="668.2" font-family="Liberation Sans" font-size="18" fill="#000" text-anchor="end" textLength="23.3" lengthAdjust="spacingAndGlyphs" stroke="#000" stroke-width="0.1">10</text>
<text x="63.8" y="595.4" font-family="Liberation Sans" font-size="18" fill="#000" text-anchor="end" textLength="23.3" lengthAdjust="spacingAndGlyphs" stroke="#000" stroke-width="0.1">11</text>
<text x="63.8" y="522.7" font-family="Liberation Sans" font-size="18" fill="#000" text-anchor="end" textLength="23.3" lengthAdjust="spacingAndGlyphs" stroke="#000" stroke-width="0.1">12</text>
<text x="63.8" y="450.0" font-family="Liberation Sans" font-size="18" fill="#000" text-anchor="end" textLength="23.3" lengthAdjust="spacingAndGlyphs" stroke="#000" stroke-width="0.1">13</text>
<text x="63.8" y="377.3" font-family="Liberation Sans" font-size="18" fill="#000" text-anchor="end" textLength="23.3" lengthAdjust="spacingAndGlyphs" stroke="#000" stroke-width="0.1">14</text>
<text x="63.8" y="304.5" font-family="Liberation Sans" font-size="18" fill="#000" text-anchor="end" textLength="23.3" lengthAdjust="spacingAndGlyphs" stroke="#000" stroke-width="0.1">15</text>
<text x="63.8" y="231.8" font-family="Liberation Sans" font-size="18" fill="#000" text-anchor="end" textLength="23.3" lengthAdjust="spacingAndGlyphs" stroke="#000" stroke-width="0.1">16</text>
<text x="67.5" y="1042.5" font-family="Liberation Sans" font-size="18" fill="#000" text-anchor="middle" textLength="64.7" lengthAdjust="spacingAndGlyphs" stroke="#000" stroke-width="0.1">Jan &#39;14</text>
<text x="161.0" y="1042.5" font-family="Liberation Sans" font-size="18" fill="#000" text-anchor="middle" textLength="74.7" lengthAdjust="spacingAndGlyphs" stroke="#000" stroke-width="0.1">May &#39;14</text>
<text x="255.2" y="1042.5" font-family="Liberation Sans" font-size="18" fill="#000" text-anchor="middle" textLength="71.2" lengthAdjust="spacingAndGlyphs" stroke="#000" stroke-width="0.1">Sep &#39;14</text>
<text x="347.2" y="1042.5" font-family="Liberation Sans" font-size="18" fill="#000" text-anchor="middle" textLength="64.7" lengthAdjust="spacingAndGlyphs" stroke="#000" stroke-width="0.1">Jan &#39;15</text>
<text x="440.7" y="1042.5" font-family="Liberation Sans" font-size="18" fill="#000" text-anchor="middle" textLength="74.7" lengthAdjust="spacingAndGlyphs" stroke="#000" stroke-width="0.1">May &#39;15</text>
<text x="535.0" y="1042.5" font-family="Liberation Sans" font-size="18" fill="#000" text-anchor="middle" textLength="71.2" lengthAdjust="spacingAndGlyphs" stroke="#000" stroke-width="0.1">Sep &#39;15</text>
<text x="627.0" y="1042.5" font-family="Liberation Sans" font-size="18" fill="#000" text-anchor="middle" textLength="64.7" lengthAdjust="spacingAndGlyphs" stroke="#000" stroke-width="0.1">Jan &#39;16</text>
<text x="721.2" y="1042.5" font-family="Liberation Sans" font-size="18" fill="#000" text-anchor="middle" textLength="74.7" lengthAdjust="spacingAndGlyphs" stroke="#000" stroke-width="0.1">May &#39;16</text>
<text x="815.5" y="1042.5" font-family="Liberation Sans" font-size="18" fill="#000" text-anchor="middle" textLength="71.2" lengthAdjust="spacingAndGlyphs" stroke="#000" stroke-width="0.1">Sep &#39;16</text>
<text x="907.5" y="1042.5" font-family="Liberation Sans" font-size="18" fill="#000" text-anchor="middle" textLength="64.7" lengthAdjust="spacingAndGlyphs" stroke="#000" stroke-width="0.1">Jan &#39;17</text>
<text x="1001.0" y="1042.5" font-family="Liberation Sans" font-size="18" fill="#000" text-anchor="middle" textLength="74.7" lengthAdjust="spacingAndGlyphs" stroke="#000" stroke-width="0.1">May &#39;17</text>
<text x="1095.3" y="1042.5" font-family="Liberation Sans" font-size="18" fill="#000" text-anchor="middle" textLength="71.2" lengthAdjust="spacingAndGlyphs" stroke="#000" stroke-width="0.1">Sep &#39;17</text>
<text x="1187.3" y="1042.5" font-family="Liberation Sans" font-size="18" fill="#000" text-anchor="middle" textLength="64.7" lengthAdjust="spacingAndGlyphs" stroke="#000" stroke-width="0.1">Jan &#39;18</text>
<text x="1280.7" y="1042.5" font-family="Liberation Sans" font-size="18" fill="#000" text-anchor="middle" textLength="74.7" lengthAdjust="spacingAndGlyphs" stroke="#000" stroke-width="0.1">May &#39;18</text>
<text x="1375.0" y="1042.5" font-family="Liberation Sans" font-size="18" fill="#000" text-anchor="middle" textLength="71.2" lengthAdjust="spacingAndGlyphs" stroke="#000" stroke-width="0.1">Sep &#39;18</text>
<text transform="translate(27.1,627.5) rotate(-90)" text-anchor="middle" font-family="Liberation Sans" font-size="25" fill="#000" textLength="252" lengthAdjust="spacingAndGlyphs">Grunnvatnshæð [m y.s.]</text>
<line x1="1392" y1="486.4" x2="1432.5" y2="486.4" stroke="#1010c8" stroke-width="2.2"/>
<text x="1446.0" y="492.0" font-family="Liberation Sans" font-size="18" fill="#000" textLength="23.5" lengthAdjust="spacingAndGlyphs" stroke="#000" stroke-width="0.1">T1</text>
<line x1="1392" y1="511.7" x2="1432.5" y2="511.7" stroke="#1a8c1a" stroke-width="2.2"/>
<text x="1446.0" y="517.3" font-family="Liberation Sans" font-size="18" fill="#000" textLength="23.5" lengthAdjust="spacingAndGlyphs" stroke="#000" stroke-width="0.1">T2</text>
<line x1="1392" y1="536.9" x2="1432.5" y2="536.9" stroke="#868686" stroke-width="2.2"/>
<text x="1446.0" y="542.5" font-family="Liberation Sans" font-size="18" fill="#000" textLength="23.5" lengthAdjust="spacingAndGlyphs" stroke="#000" stroke-width="0.1">T3</text>
<line x1="1392" y1="562.2" x2="1432.5" y2="562.2" stroke="#e81414" stroke-width="2.2"/>
<text x="1446.0" y="567.8" font-family="Liberation Sans" font-size="18" fill="#000" textLength="23.5" lengthAdjust="spacingAndGlyphs" stroke="#000" stroke-width="0.1">T4</text>
<line x1="1392" y1="587.5" x2="1432.5" y2="587.5" stroke="#b428c4" stroke-width="2.2"/>
<text x="1446.0" y="593.1" font-family="Liberation Sans" font-size="18" fill="#000" textLength="23.5" lengthAdjust="spacingAndGlyphs" stroke="#000" stroke-width="0.1">T5</text>
<line x1="1392" y1="612.8" x2="1432.5" y2="612.8" stroke="#1cb4c4" stroke-width="2.2"/>
<text x="1446.0" y="618.4" font-family="Liberation Sans" font-size="18" fill="#000" textLength="23.5" lengthAdjust="spacingAndGlyphs" stroke="#000" stroke-width="0.1">T6</text>
<line x1="1392" y1="638.0" x2="1432.5" y2="638.0" stroke="#f4a42c" stroke-width="2.2"/>
<text x="1446.0" y="643.6" font-family="Liberation Sans" font-size="18" fill="#000" textLength="23.5" lengthAdjust="spacingAndGlyphs" stroke="#000" stroke-width="0.1">T7</text>
<line x1="1392" y1="663.3" x2="1432.5" y2="663.3" stroke="#30e030" stroke-width="2.2"/>
<text x="1446.0" y="668.9" font-family="Liberation Sans" font-size="18" fill="#000" textLength="23.5" lengthAdjust="spacingAndGlyphs" stroke="#000" stroke-width="0.1">T8</text>
<line x1="1392" y1="688.6" x2="1432.5" y2="688.6" stroke="#0a0a0a" stroke-width="2.2"/>
<text x="1446.0" y="694.2" font-family="Liberation Sans" font-size="18" fill="#000" textLength="23.5" lengthAdjust="spacingAndGlyphs" stroke="#000" stroke-width="0.1">T9</text>
<line x1="1392" y1="713.8" x2="1432.5" y2="713.8" stroke="#c4b42a" stroke-width="2.2"/>
<text x="1446.0" y="719.4" font-family="Liberation Sans" font-size="18" fill="#000" textLength="36.5" lengthAdjust="spacingAndGlyphs" stroke="#000" stroke-width="0.1">T10</text>
<line x1="1392" y1="739.1" x2="1432.5" y2="739.1" stroke="#f4c0cc" stroke-width="2.2"/>
<text x="1446.0" y="744.7" font-family="Liberation Sans" font-size="18" fill="#000" textLength="36.5" lengthAdjust="spacingAndGlyphs" stroke="#000" stroke-width="0.1">T11</text>
<line x1="1392" y1="764.4" x2="1432.5" y2="764.4" stroke="#8a1010" stroke-width="2.2"/>
<text x="1446.0" y="770.0" font-family="Liberation Sans" font-size="18" fill="#000" textLength="36.5" lengthAdjust="spacingAndGlyphs" stroke="#000" stroke-width="0.1">T12</text>
<line x1="401.6" y1="221" x2="401.6" y2="1010" stroke="#d01010" stroke-width="3"/>
<polygon points="395.6,1009 407.4,1009 401.5,1021" fill="#ee1414"/>
<line x1="1098" y1="501" x2="1143.1" y2="762.2" stroke="#000" stroke-width="3.4"/><polygon points="1145.5,776 1136.2,763.4 1150.0,761.0" fill="#000"/>
<line x1="898" y1="925" x2="1085.9" y2="817.0" stroke="#000" stroke-width="3.4"/><polygon points="1098,810 1089.4,823.0 1082.4,810.9" fill="#000"/>
<rect x="164.35" y="169.95" width="490.00" height="50.00" fill="#fff" stroke="#4a9a96" stroke-width="3.3"/>
<text x="186.0" y="204.7" font-family="Liberation Sans" font-size="29.5" fill="#1a1a1a" textLength="447.0" lengthAdjust="spacingAndGlyphs" >Framkvæmdir á Hlíðarenda hefjast</text>
<rect x="877.45" y="414.45" width="389.70" height="85.20" fill="#fff" stroke="#4a9a96" stroke-width="3.3"/>
<text x="931.0" y="449.3" font-family="Liberation Sans" font-size="29.5" fill="#1a1a1a" textLength="281.5" lengthAdjust="spacingAndGlyphs" >Framkvæmdir neðst á</text>
<text x="953.5" y="484.6" font-family="Liberation Sans" font-size="29.5" fill="#1a1a1a" textLength="237.0" lengthAdjust="spacingAndGlyphs" >Hlíðarenda hefjast</text>
<rect x="508.25" y="883.65" width="389.50" height="119.40" fill="#fff" stroke="#4a9a96" stroke-width="3.3"/>
<text x="543.5" y="918.2" font-family="Liberation Sans" font-size="29.5" fill="#1a1a1a" textLength="318.5" lengthAdjust="spacingAndGlyphs" >Grunnvatn á greiðari leið</text>
<text x="559.0" y="953.7" font-family="Liberation Sans" font-size="29.5" fill="#1a1a1a" textLength="287.0" lengthAdjust="spacingAndGlyphs" >neðst á Hlíðarenda og</text>
<text x="627.5" y="988.1" font-family="Liberation Sans" font-size="29.5" fill="#1a1a1a" textLength="149.5" lengthAdjust="spacingAndGlyphs" >safnast fyrir</text>
<rect x="0" y="1067" width="740" height="35.5" fill="#3a9e96"/>
<rect x="740" y="1067" width="23" height="35.5" fill="#74b9b4"/>
<rect x="785" y="1067" width="370" height="35.5" fill="#55c2bb"/>
<rect x="1155" y="1067" width="18" height="35.5" fill="#8dd3cd"/>
<rect x="1188" y="1067" width="185" height="35.5" fill="#80d3cc"/>
<rect x="1373" y="1067" width="14" height="35.5" fill="#9ddcd6"/>
<rect x="1399" y="1067" width="91" height="35.5" fill="#a3dfda"/>
<rect x="1490" y="1067" width="10" height="35.5" fill="#bde7e3"/>
<text x="290.0" y="1092.0" font-family="Liberation Sans" font-size="21.5" fill="#fff" textLength="157.5" lengthAdjust="spacingAndGlyphs" >www.vatnaskil.is</text>
<text x="912.5" y="1091.6" font-family="Liberation Sans" font-size="20.5" fill="#fff" textLength="182.5" lengthAdjust="spacingAndGlyphs" >22. nóvember 2018</text>
<text x="1449.0" y="1092.2" font-family="Liberation Sans" font-size="20.5" fill="#2a4644" textLength="11.5" lengthAdjust="spacingAndGlyphs" >5</text>
</svg>
</body></html>
